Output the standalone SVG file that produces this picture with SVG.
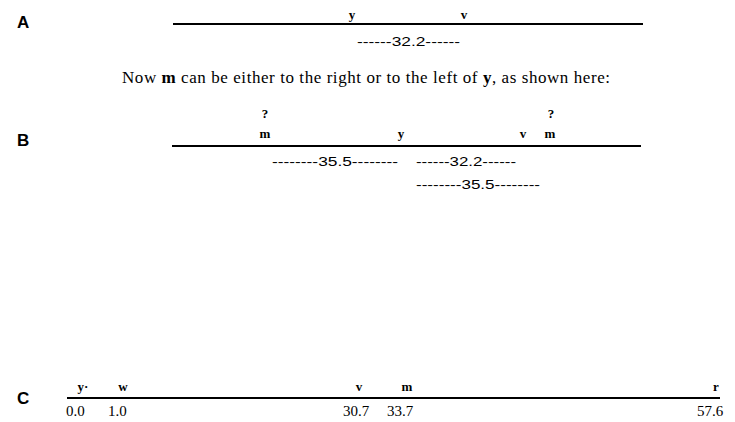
<svg xmlns="http://www.w3.org/2000/svg" width="735" height="422" viewBox="0 0 735 422">
<style>
.sec{font-family:"Liberation Sans",Arial,sans-serif;font-weight:bold;font-size:17px;fill:#000}
.lbl{font-family:"Liberation Serif","Times New Roman",serif;font-weight:bold;font-size:13px;fill:#000;text-anchor:middle}
.dist{font-family:"Liberation Sans Narrow","Liberation Sans",sans-serif;font-size:12px;fill:#000}
.num{font-family:"Liberation Serif","Times New Roman",serif;font-size:15px;fill:#000}
.txt{font-family:"Liberation Serif","Times New Roman",serif;font-size:17px;fill:#000}
.b{font-weight:bold}
.ln{stroke:#000;stroke-width:2;fill:none}
</style>
<rect width="735" height="422" fill="#fff"/>
<g id="connectors">
<line class="ln" x1="173" y1="24" x2="643" y2="24"/>
<line class="ln" x1="172" y1="146" x2="641" y2="146"/>
<line class="ln" x1="67" y1="398" x2="720" y2="398"/>
</g>
<g id="sectionA">
<text class="sec" x="17" y="28">A</text>
<text class="lbl" x="352" y="19">y</text>
<text class="lbl" x="464" y="19">v</text>
<text class="dist" x="357" y="46" textLength="103" lengthAdjust="spacingAndGlyphs">------32.2------</text>
</g>
<text class="txt" x="122" y="83" textLength="488">Now <tspan class="b">m</tspan> can be either to the right or to the left of <tspan class="b">y</tspan>, as shown here:</text>
<g id="sectionB">
<text class="sec" x="17" y="146">B</text>
<text class="lbl" x="265" y="118">?</text>
<text class="lbl" x="265" y="138">m</text>
<text class="lbl" x="401" y="138">y</text>
<text class="lbl" x="523" y="138">v</text>
<text class="lbl" x="550" y="138">m</text>
<text class="lbl" x="551" y="118">?</text>
<text class="dist" x="272" y="166" textLength="126" lengthAdjust="spacingAndGlyphs">--------35.5--------</text>
<text class="dist" x="416" y="166" textLength="100" lengthAdjust="spacingAndGlyphs">------32.2------</text>
<text class="dist" x="416" y="189" textLength="124" lengthAdjust="spacingAndGlyphs">--------35.5--------</text>
</g>
<g id="sectionC">
<text class="sec" x="17" y="404">C</text>
<text class="lbl" x="83" y="391">y·</text>
<text class="lbl" x="123" y="391">w</text>
<text class="lbl" x="359" y="391">v</text>
<text class="lbl" x="407" y="391">m</text>
<text class="lbl" x="716" y="391">r</text>
<text class="num" x="66" y="416">0.0</text>
<text class="num" x="108" y="416">1.0</text>
<text class="num" x="343" y="416">30.7</text>
<text class="num" x="387" y="416">33.7</text>
<text class="num" x="697" y="416">57.6</text>
</g>
</svg>
